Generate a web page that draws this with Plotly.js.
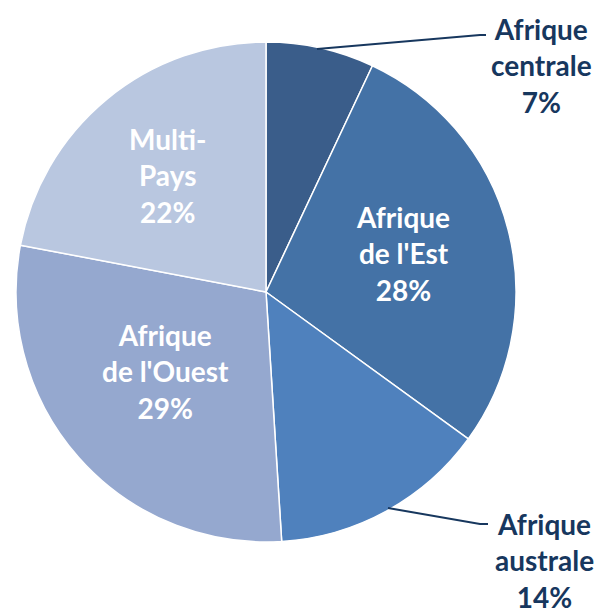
<!DOCTYPE html>
<html><head><meta charset="utf-8">
<script src="https://cdn.plot.ly/plotly-3.0.1.min.js"></script>
<style>html,body{margin:0;padding:0;background:#fff}</style>
</head><body>
<div id="chart" style="width:604px;height:615px"></div>
<script>
const categories = ["Afrique centrale", "Afrique de l'Est", "Afrique australe", "Afrique de l'Ouest", "Multi-Pays"];
const labelLines = [["Afrique","centrale"],["Afrique","de l'Est"],["Afrique","australe"],["Afrique","de l'Ouest"],["Multi-","Pays"]];
const values = [7, 28, 14, 29, 22];
const colors = ["#3a5d8a", "#4472a6", "#4f81bd", "#95a8cf", "#b9c7e0"];

const W = 604, H = 615;
const px = x => x / W, py = y => 1 - y / H;
const total = values.reduce((a,b)=>a+b,0);

// label anchor positions (pixel), label colours
const labelPos = [[541, 66], [403, 253], [544, 560], [165, 371], [167, 175]];
const labelColor = ["#17375e", "#ffffff", "#17375e", "#ffffff", "#ffffff"];

const annotations = categories.map((c, i) => ({
  xref: 'paper', yref: 'paper',
  x: px(labelPos[i][0]), y: py(labelPos[i][1]),
  xanchor: 'center', yanchor: 'middle',
  showarrow: false, align: 'center',
  text: '<b>' + labelLines[i].join('<br>') + '<br>' + Math.round(values[i] / total * 100) + '%</b>',
  font: {family: 'Lato, "Open Sans", sans-serif', size: 28, color: labelColor[i]}
}));

const shapes = [
  {type: 'path', xref: 'paper', yref: 'paper',
   path: `M ${px(317)} ${py(49)} L ${px(480)} ${py(35)} L ${px(486)} ${py(35)}`,
   line: {color: '#17375e', width: 2}},
  {type: 'path', xref: 'paper', yref: 'paper',
   path: `M ${px(388)} ${py(508)} L ${px(480)} ${py(524)} L ${px(488)} ${py(524)}`,
   line: {color: '#17375e', width: 2}}
];

const trace = {
  type: 'pie',
  labels: categories,
  values: values,
  sort: false,
  direction: 'clockwise',
  rotation: 0,
  textinfo: 'none',
  hoverinfo: 'label+percent',
  marker: {colors: colors, line: {color: '#ffffff', width: 1.5}},
  domain: {x: [px(16), px(516)], y: [py(542), py(42)]},
  showlegend: false
};

Plotly.newPlot('chart', [trace], {
  width: W, height: H,
  margin: {l: 0, r: 0, t: 0, b: 0},
  paper_bgcolor: '#ffffff',
  annotations: annotations,
  shapes: shapes,
  showlegend: false
}, {displayModeBar: false, staticPlot: true});
</script>
</body></html>
